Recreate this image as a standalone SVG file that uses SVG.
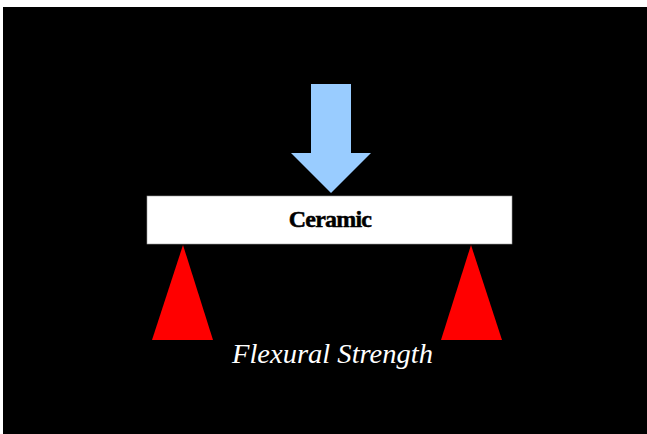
<svg xmlns="http://www.w3.org/2000/svg" width="647" height="434" viewBox="0 0 647 434">
  <style>
    .support { fill: #ff0000; }
    .beam { fill: #ffffff; stroke: #9a9a9a; stroke-width: 0.6; }
    .load { fill: #99ccff; }
    .beam-label { font-family: "Liberation Serif", "Times New Roman", serif; font-weight: bold; font-size: 24px; fill: #000000; letter-spacing: -0.8px; stroke: #000000; stroke-width: 0.5px; }
    .caption { font-family: "Liberation Serif", "Times New Roman", serif; font-style: italic; font-size: 27px; fill: #ffffff; }
  </style>
  <rect x="0" y="0" width="647" height="434" fill="#ffffff"/>
  <rect x="3" y="7" width="644" height="427" fill="#000000"/>

  <g id="load-arrow">
    <polygon class="load" points="311,84 351,84 351,153 371,153 331,193 291,153 311,153"/>
  </g>

  <g id="beam">
    <rect class="beam" x="147" y="196" width="365" height="48"/>
    <text class="beam-label" x="330" y="227" text-anchor="middle">Ceramic</text>
  </g>

  <g id="support-left">
    <polygon class="support" points="183,245 213,340 152,340"/>
  </g>

  <g id="support-right">
    <polygon class="support" points="471,245 502,340 441,340"/>
  </g>

  <g id="connectors"></g>

  <g id="caption">
    <text class="caption" x="232" y="363" textLength="201" lengthAdjust="spacingAndGlyphs">Flexural Strength</text>
  </g>
</svg>
